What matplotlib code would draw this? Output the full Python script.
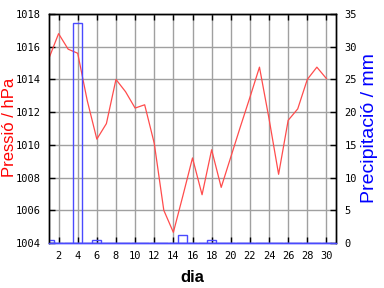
import matplotlib
matplotlib.use("Agg")
import matplotlib.pyplot as plt

days = list(range(1, 31))
pressure = [1015.3, 1016.8, 1015.85, 1015.6, 1012.7, 1010.35, 1011.3, 1014.0, 1013.25, 1012.25,
            1012.45, 1010.1, 1006.0, 1004.65, 1006.9, 1009.2, 1006.95, 1009.7, 1007.4, 1009.25,
            1011.1, 1012.9, 1014.75, 1011.6, 1008.2, 1011.5, 1012.2, 1014.0, 1014.75, 1014.05]
precip = [0.4, 0, 0, 33.7, 0, 0.4, 0, 0, 0, 0,
          0, 0, 0, 0, 1.2, 0, 0, 0.4, 0, 0,
          0, 0, 0, 0, 0, 0, 0, 0, 0, 0]
xticks = list(range(2, 31, 2))
pticks = list(range(1004, 1019, 2))
rticks = list(range(0, 36, 5))

RED = '#ff4c4c'
BLUE = '#4a4aff'
GRID = '#a0a0a0'
mono = 'DejaVu Sans Mono'

fig = plt.figure(figsize=(3.84, 2.88), dpi=100)
ax = fig.add_axes([49/384, 1-243/288, (336-49)/384, (243-14)/288])
ax2 = ax.twinx()

ax.set_xlim(1, 31)
ax.set_ylim(1004, 1018)
ax2.set_ylim(0, 35)

ax.set_xticks(xticks)
ax.set_yticks(pticks)
ax2.set_yticks(rticks)
ax.grid(True, color=GRID, lw=1.0)
ax.set_axisbelow(True)

ax.plot(days, pressure, color=RED, lw=0.9, zorder=3)
ax2.bar(days, precip, width=0.95, fill=False, edgecolor=BLUE, lw=1.0, align='center')

for a in (ax, ax2):
    for s in a.spines.values():
        s.set_color('black')
        s.set_linewidth(1.0)
    a.spines['bottom'].set_color(BLUE)
ax.tick_params(axis='both', direction='in', length=4, width=1, colors='black',
               labelsize=7.5, pad=6, top=True)
ax2.tick_params(axis='y', direction='in', length=4, width=1, labelsize=7.5, pad=6)
for lab in ax.get_xticklabels() + ax.get_yticklabels() + ax2.get_yticklabels():
    lab.set_fontfamily(mono)

fig.text(192/384, 1-277/288, 'dia', fontsize=12, fontweight='bold', family='Liberation Sans',
         ha='center', va='center')
fig.text(10/384, 1-127/288, 'Pressió / hPa', fontsize=12, color='#ff0000', family='Liberation Sans',
         rotation=90, ha='center', va='center')
fig.text(370/384, 1-128/288, 'Precipitació / mm', fontsize=14, color='#0000ff', family='Liberation Sans',
         rotation=90, ha='center', va='center')

fig.savefig('out.png', dpi=100)
